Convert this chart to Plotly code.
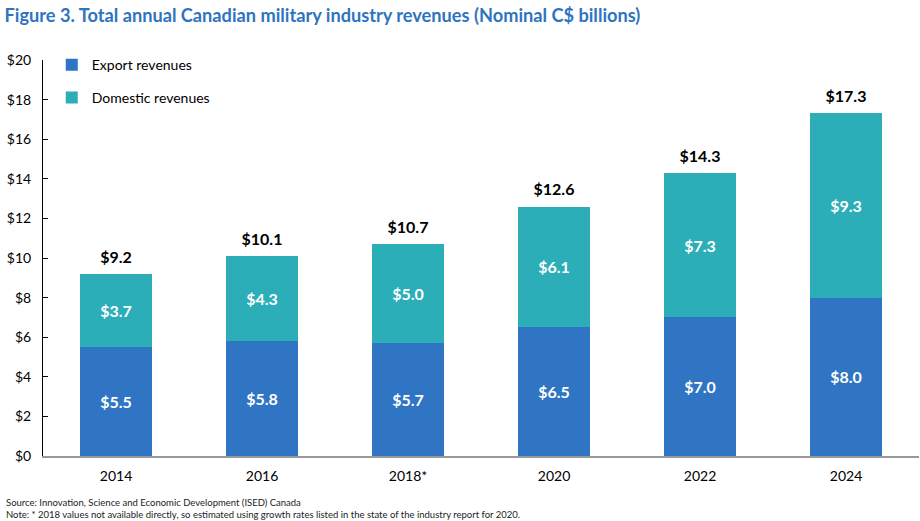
import plotly.graph_objects as go

years = ["2014", "2016", "2018*", "2020", "2022", "2024"]
export_rev = [5.5, 5.8, 5.7, 6.5, 7.0, 8.0]
domestic_rev = [3.7, 4.3, 5.0, 6.1, 7.3, 9.3]
totals = [9.2, 10.1, 10.7, 12.6, 14.3, 17.3]
y_ticks = [0, 2, 4, 6, 8, 10, 12, 14, 16, 18, 20]
y_tick_text = [f"${v}" for v in y_ticks]

FONT = "Lato"
EXPORT_C = "#2F75C3"
DOMESTIC_C = "#2BAEB8"

fig = go.Figure()
fig.add_trace(go.Bar(
    x=years, y=export_rev, name="Export revenues", marker_color=EXPORT_C,
    marker_line_width=0, texttemplate="$%{y:.1f}", textposition="inside",
    insidetextanchor="middle", textangle=0,
    textfont=dict(color="white", size=16, family=FONT, weight="bold"),
    legend="legend",
))
fig.add_trace(go.Bar(
    x=years, y=domestic_rev, name="Domestic revenues", marker_color=DOMESTIC_C,
    marker_line_width=0, texttemplate="$%{y:.1f}", textposition="inside",
    insidetextanchor="middle", textangle=0,
    textfont=dict(color="white", size=16, family=FONT, weight="bold"),
    legend="legend2",
))
fig.add_trace(go.Scatter(
    x=years, y=totals, mode="markers+text", texttemplate="<b>$%{y:.1f}</b>",
    textposition="top center", showlegend=False, hoverinfo="skip",
    marker=dict(size=10, opacity=0),
    textfont=dict(size=16, color="black", family=FONT),
))

fig.add_annotation(xref="paper", yref="paper", x=-0.0445, y=-0.118,
                   xanchor="left", yanchor="middle", showarrow=False,
                   text="Source: Innovation, Science and Economic Development (ISED) Canada",
                   font=dict(size=9.5, color="#222", family=FONT))
fig.add_annotation(xref="paper", yref="paper", x=-0.0445, y=-0.148,
                   xanchor="left", yanchor="middle", showarrow=False,
                   text="Note: * 2018 values not available directly, so estimated using growth rates listed in the state of the industry report for 2020.",
                   font=dict(size=9.5, color="#222", family=FONT))

fig.update_layout(
    width=920, height=521,
    margin=dict(l=43, r=1, t=60, b=65),
    paper_bgcolor="white", plot_bgcolor="white",
    barmode="stack", bargap=0.51,
    font=dict(family=FONT, color="black"),
    title=dict(text="<b>Figure 3. Total annual Canadian military industry revenues (Nominal C$ billions)</b>",
               xref="container", yref="container", x=0.005, y=1 - 16/521,
               xanchor="left", yanchor="middle",
               font=dict(size=18.2, color="#2E74C0", family=FONT)),
    showlegend=True,
    legend=dict(x=0.01, y=0.987, xanchor="left", yanchor="middle",
                font=dict(size=14, family=FONT), bgcolor="rgba(0,0,0,0)"),
    legend2=dict(x=0.01, y=0.904, xanchor="left", yanchor="middle",
                 font=dict(size=14, family=FONT), bgcolor="rgba(0,0,0,0)"),
    xaxis=dict(type="category", range=[-0.5, 5.5], showline=True, linecolor="#999",
               linewidth=1.5, ticks="", tickfont=dict(size=14, family=FONT),
               ticklabelstandoff=6),
    yaxis=dict(range=[0, 20], tickmode="array", tickvals=y_ticks, ticktext=y_tick_text,
               showgrid=False, zeroline=False, showline=True, linecolor="black",
               linewidth=1, ticks="inside", ticklen=5, tickcolor="black",
               tickfont=dict(size=14, family=FONT), ticklabelstandoff=8),
)

fig.write_html("out.html")
